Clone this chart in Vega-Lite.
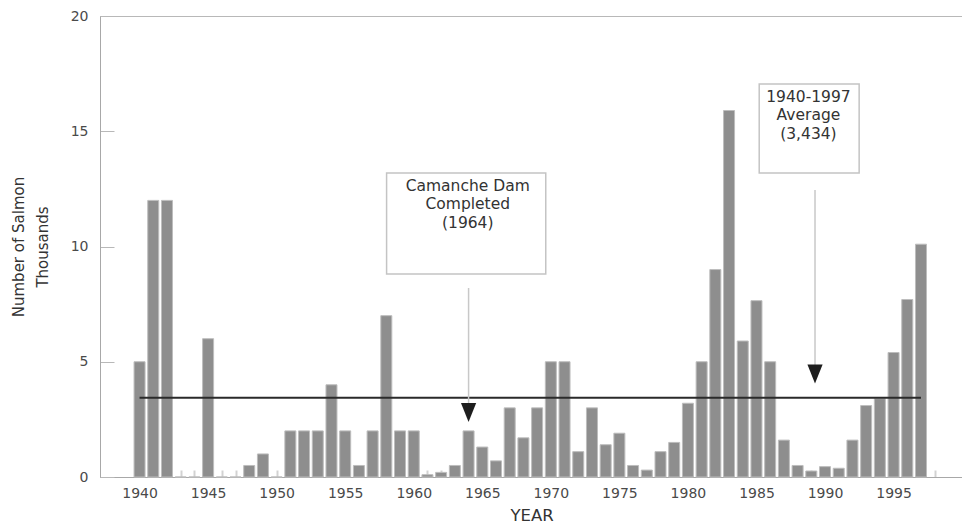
{
  "$schema": "https://vega.github.io/schema/vega-lite/v6.json",
  "width": 863,
  "height": 461,
  "autosize": "none",
  "padding": {"left": 100, "top": 16, "right": 0, "bottom": 46},
  "background": "white",
  "config": {
    "view": {"stroke": "#b8b8b8", "strokeWidth": 1},
    "font": "DejaVu Sans",
    "axis": {"grid": false}
  },
  "data": {
    "values": [
      {"year": 1940, "salmon": 5.0},
      {"year": 1941, "salmon": 12.0},
      {"year": 1942, "salmon": 12.0},
      {"year": 1943, "salmon": 0},
      {"year": 1944, "salmon": 0},
      {"year": 1945, "salmon": 6.0},
      {"year": 1946, "salmon": 0},
      {"year": 1947, "salmon": 0},
      {"year": 1948, "salmon": 0.5},
      {"year": 1949, "salmon": 1.0},
      {"year": 1950, "salmon": 0},
      {"year": 1951, "salmon": 2.0},
      {"year": 1952, "salmon": 2.0},
      {"year": 1953, "salmon": 2.0},
      {"year": 1954, "salmon": 4.0},
      {"year": 1955, "salmon": 2.0},
      {"year": 1956, "salmon": 0.5},
      {"year": 1957, "salmon": 2.0},
      {"year": 1958, "salmon": 7.0},
      {"year": 1959, "salmon": 2.0},
      {"year": 1960, "salmon": 2.0},
      {"year": 1961, "salmon": 0.1},
      {"year": 1962, "salmon": 0.2},
      {"year": 1963, "salmon": 0.5},
      {"year": 1964, "salmon": 2.0},
      {"year": 1965, "salmon": 1.3},
      {"year": 1966, "salmon": 0.7},
      {"year": 1967, "salmon": 3.0},
      {"year": 1968, "salmon": 1.7},
      {"year": 1969, "salmon": 3.0},
      {"year": 1970, "salmon": 5.0},
      {"year": 1971, "salmon": 5.0},
      {"year": 1972, "salmon": 1.1},
      {"year": 1973, "salmon": 3.0},
      {"year": 1974, "salmon": 1.4},
      {"year": 1975, "salmon": 1.9},
      {"year": 1976, "salmon": 0.5},
      {"year": 1977, "salmon": 0.3},
      {"year": 1978, "salmon": 1.1},
      {"year": 1979, "salmon": 1.5},
      {"year": 1980, "salmon": 3.2},
      {"year": 1981, "salmon": 5.0},
      {"year": 1982, "salmon": 9.0},
      {"year": 1983, "salmon": 15.9},
      {"year": 1984, "salmon": 5.9},
      {"year": 1985, "salmon": 7.65},
      {"year": 1986, "salmon": 5.0},
      {"year": 1987, "salmon": 1.6},
      {"year": 1988, "salmon": 0.5},
      {"year": 1989, "salmon": 0.26},
      {"year": 1990, "salmon": 0.45},
      {"year": 1991, "salmon": 0.38},
      {"year": 1992, "salmon": 1.6},
      {"year": 1993, "salmon": 3.1},
      {"year": 1994, "salmon": 3.4},
      {"year": 1995, "salmon": 5.4},
      {"year": 1996, "salmon": 7.7},
      {"year": 1997, "salmon": 10.1}
    ]
  },
  "encoding": {
    "x": {
      "field": "year",
      "type": "quantitative",
      "scale": {"domain": [1937.48, 1999.7], "nice": false, "zero": false},
      "axis": {
        "title": "YEAR",
        "values": [1940,1941,1942,1943,1944,1945,1946,1947,1948,1949,1950,1951,1952,1953,1954,1955,1956,1957,1958,1959,1960,1961,1962,1963,1964,1965,1966,1967,1968,1969,1970,1971,1972,1973,1974,1975,1976,1977,1978,1979,1980,1981,1982,1983,1984,1985,1986,1987,1988,1989,1990,1991,1992,1993,1994,1995,1996,1997,1998],
        "format": "d",
        "labelExpr": "datum.value % 5 === 0 ? datum.label : ''",
        "labelFlush": false,
        "labelOverlap": false,
        "labelFontSize": 14,
        "labelColor": "#4a4a4a",
        "labelPadding": 16,
        "tickSize": -7,
        "tickColor": "#d2d2d2",
        "tickWidth": 2,
        "domainColor": "#a8a8a8",
        "domainWidth": 1,
        "titleFontSize": 16.5,
        "titleFontWeight": "normal",
        "titleColor": "#333333",
        "titlePadding": 7
      }
    },
    "y": {
      "field": "salmon",
      "type": "quantitative",
      "scale": {"domain": [0, 20], "nice": false},
      "axis": {
        "title": ["Number of Salmon", "Thousands"],
        "values": [0, 5, 10, 15, 20],
        "labelFontSize": 14,
        "labelColor": "#4a4a4a",
        "labelPadding": 26,
        "tickSize": -14,
        "tickColor": "#b8b8b8",
        "tickWidth": 1,
        "domainColor": "#a8a8a8",
        "domainWidth": 1,
        "titleFontSize": 15,
        "titleFontWeight": "normal",
        "titleColor": "#333333",
        "titleLineHeight": 24,
        "titlePadding": 20
      }
    }
  },
  "layer": [
    {
      "mark": {"type": "bar", "width": 11, "fill": "#8e8e8e", "stroke": "#bdbdbd", "strokeWidth": 1}
    },
    {
      "transform": [{"filter": "datum.year === 1940"}],
      "mark": {"type": "rule", "color": "#2a2a2a", "strokeWidth": 2},
      "encoding": {
        "x": {"datum": 1940},
        "x2": {"datum": 1997},
        "y": {"datum": 3.434}
      }
    },
    {
      "transform": [{"filter": "datum.year === 1940"}],
      "mark": {"type": "rect", "fill": "white", "stroke": "#c4c4c4", "strokeWidth": 1.5},
      "encoding": {
        "x": {"datum": 1958.02},
        "x2": {"datum": 1969.63},
        "y": {"datum": 13.19},
        "y2": {"datum": 8.81}
      }
    },
    {
      "transform": [{"filter": "datum.year === 1940"}],
      "mark": {"type": "rect", "fill": "white", "stroke": "#c4c4c4", "strokeWidth": 1.5},
      "encoding": {
        "x": {"datum": 1985.2},
        "x2": {"datum": 1992.49},
        "y": {"datum": 17.05},
        "y2": {"datum": 13.19}
      }
    },
    {
      "transform": [{"filter": "datum.year === 1940"}],
      "mark": {"type": "text", "align": "center", "baseline": "top", "fontSize": 15.5, "fontWeight": "normal", "lineHeight": 18.5, "lineBreak": "\n", "fill": "#333333"},
      "encoding": {
        "x": {"datum": 1963.94},
        "y": {"datum": 12.93},
        "text": {"value": "Camanche Dam\nCompleted\n(1964)"}
      }
    },
    {
      "transform": [{"filter": "datum.year === 1940"}],
      "mark": {"type": "text", "align": "center", "baseline": "top", "fontSize": 15.5, "fontWeight": "normal", "lineHeight": 18.5, "lineBreak": "\n", "fill": "#333333"},
      "encoding": {
        "x": {"datum": 1988.79},
        "y": {"datum": 16.79},
        "text": {"value": "1940-1997\nAverage\n (3,434)"}
      }
    },
    {
      "transform": [{"filter": "datum.year === 1940"}],
      "mark": {"type": "rule", "color": "#c8c8c8", "strokeWidth": 1.5},
      "encoding": {
        "x": {"datum": 1964},
        "y": {"datum": 8.2},
        "y2": {"datum": 3.15}
      }
    },
    {
      "transform": [{"filter": "datum.year === 1940"}],
      "mark": {"type": "rule", "color": "#c8c8c8", "strokeWidth": 1.5},
      "encoding": {
        "x": {"datum": 1989.27},
        "y": {"datum": 12.45},
        "y2": {"datum": 4.8}
      }
    },
    {
      "transform": [{"filter": "datum.year === 1940"}],
      "mark": {"type": "point", "shape": "M -0.8 -1 L 0.8 -1 L 0 1 Z", "size": 361, "filled": true, "color": "#1e1e1e", "opacity": 1},
      "encoding": {
        "x": {"datum": 1964},
        "y": {"datum": 2.8}
      }
    },
    {
      "transform": [{"filter": "datum.year === 1940"}],
      "mark": {"type": "point", "shape": "M -0.8 -1 L 0.8 -1 L 0 1 Z", "size": 361, "filled": true, "color": "#1e1e1e", "opacity": 1},
      "encoding": {
        "x": {"datum": 1989.27},
        "y": {"datum": 4.47}
      }
    }
  ]
}
